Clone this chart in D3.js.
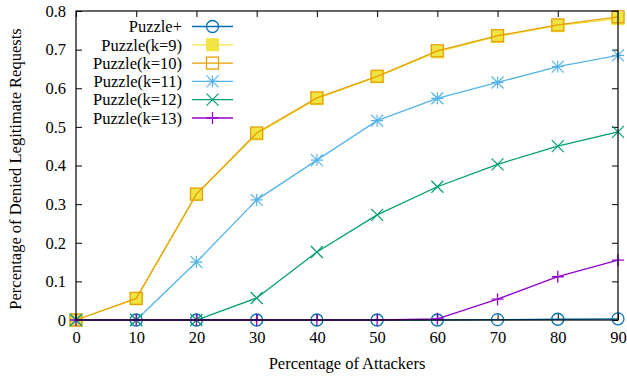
<!DOCTYPE html>
<html>
<head>
<meta charset="utf-8">
<script src="https://cdn.jsdelivr.net/npm/d3@7"></script>
<style>
  html, body { margin: 0; padding: 0; background: #fff; }
  svg { display: block; }
  svg text { font-family: "Liberation Serif", "Times New Roman", serif; }
</style>
</head>
<body>
<svg id="chart" width="627" height="379"></svg>
<script>
// Attacker share (percent) on the x axis
const attackers = [0, 10, 20, 30, 40, 50, 60, 70, 80, 90];

// Share of denied legitimate requests per scheme
const puzzlePlus = [0, 0, 0, 0, 0, 0, 0, 0.001, 0.002, 0.003];
const puzzleK9   = [0, 0.055, 0.325, 0.482, 0.573, 0.630, 0.694, 0.734, 0.762, 0.780];
const puzzleK10  = [0, 0.056, 0.326, 0.484, 0.575, 0.631, 0.697, 0.736, 0.764, 0.785];
const puzzleK11  = [0, 0, 0.150, 0.311, 0.414, 0.516, 0.574, 0.615, 0.656, 0.685];
const puzzleK12  = [0, 0, 0, 0.057, 0.176, 0.272, 0.345, 0.403, 0.450, 0.487];
const puzzleK13  = [0, 0, 0, 0, 0, 0, 0.003, 0.054, 0.112, 0.155];

const seriesNames = ["Puzzle+", "Puzzle(k=9)", "Puzzle(k=10)", "Puzzle(k=11)", "Puzzle(k=12)", "Puzzle(k=13)"];
const seriesColors = ["#0072b2", "#f0e442", "#e69f00", "#56b4e9", "#009e73", "#9400d3"];
const seriesMarkers = ["circle", "filledSquare", "square", "asterisk", "cross", "plus"];
const seriesValues = [puzzlePlus, puzzleK9, puzzleK10, puzzleK11, puzzleK12, puzzleK13];

const xTicks = [0, 10, 20, 30, 40, 50, 60, 70, 80, 90];
const yTicks = [0, 0.1, 0.2, 0.3, 0.4, 0.5, 0.6, 0.7, 0.8];

const svg = d3.select("#chart");
const plotLeft = 76, plotRight = 618, plotTop = 11, plotBottom = 320;

const x = d3.scaleLinear().domain([0, 90]).range([plotLeft, plotRight]);
const y = d3.scaleLinear().domain([0, 0.8]).range([plotBottom, plotTop]);

const fontSize = 16.5;
const fontFamily = "'Liberation Serif', 'Times New Roman', serif";
const tickLen = 6;

// Tick marks mirrored on all four sides, pointing inward
const axes = svg.append("g");
axes.append("g").attr("transform", `translate(0,${plotBottom})`)
  .call(d3.axisBottom(x).tickValues(xTicks).tickSize(-tickLen).tickFormat(d3.format("d")).tickPadding(11))
  .call(g => g.select(".domain").remove())
  .call(g => g.attr("font-family", fontFamily).attr("font-size", fontSize))
  .call(g => g.selectAll("text").attr("fill", "#000"));
axes.append("g").attr("transform", `translate(0,${plotTop})`)
  .call(d3.axisTop(x).tickValues(xTicks).tickSize(-tickLen).tickFormat(""))
  .call(g => g.select(".domain").remove());
axes.append("g").attr("transform", `translate(${plotLeft},0)`)
  .call(d3.axisLeft(y).tickValues(yTicks).tickSize(-tickLen).tickFormat(d => d === 0 ? "0" : d3.format(".1f")(d)).tickPadding(10))
  .call(g => g.select(".domain").remove())
  .call(g => g.attr("font-family", fontFamily).attr("font-size", fontSize))
  .call(g => g.selectAll("text").attr("fill", "#000"));
axes.append("g").attr("transform", `translate(${plotRight},0)`)
  .call(d3.axisRight(y).tickValues(yTicks).tickSize(-tickLen).tickFormat(""))
  .call(g => g.select(".domain").remove());
axes.selectAll(".tick line").attr("stroke", "#000").attr("stroke-width", 1);

// Axis titles
svg.append("text")
  .attr("x", 347).attr("y", 369)
  .attr("text-anchor", "middle").attr("font-size", fontSize).attr("font-family", fontFamily)
  .text("Percentage of Attackers");
svg.append("text")
  .attr("transform", `translate(21,169) rotate(-90)`)
  .attr("text-anchor", "middle").attr("font-size", fontSize).attr("font-family", fontFamily)
  .text("Percentage of Denied Legitimate Requests");

// Marker shapes, drawn around (0,0)
function drawMarker(g, type, color) {
  const s = 6;
  if (type === "circle") {
    g.append("circle").attr("r", s).attr("fill", "none").attr("stroke", color).attr("stroke-width", 1.3);
  } else if (type === "filledSquare") {
    g.append("rect").attr("x", -s).attr("y", -s).attr("width", 2 * s).attr("height", 2 * s)
      .attr("fill", color).attr("stroke", color).attr("stroke-width", 1);
  } else if (type === "square") {
    g.append("rect").attr("x", -s).attr("y", -s).attr("width", 2 * s).attr("height", 2 * s)
      .attr("fill", "none").attr("stroke", color).attr("stroke-width", 1.3);
  } else if (type === "asterisk") {
    g.append("path").attr("d", `M${-s},0H${s}M0,${-s}V${s}M${-s},${-s}L${s},${s}M${-s},${s}L${s},${-s}`)
      .attr("stroke", color).attr("stroke-width", 1.2).attr("fill", "none");
  } else if (type === "cross") {
    g.append("path").attr("d", `M${-s},${-s}L${s},${s}M${-s},${s}L${s},${-s}`)
      .attr("stroke", color).attr("stroke-width", 1.2).attr("fill", "none");
  } else if (type === "plus") {
    g.append("path").attr("d", `M${-s},0H${s}M0,${-s}V${s}`)
      .attr("stroke", color).attr("stroke-width", 1.3).attr("fill", "none");
  }
}

const line = d3.line().x(d => x(d[0])).y(d => y(d[1]));
const plot = svg.append("g");
seriesValues.forEach((vals, i) => {
  const pts = attackers.map((a, j) => [a, vals[j]]);
  const g = plot.append("g");
  g.append("path").attr("d", line(pts)).attr("fill", "none")
    .attr("stroke", seriesColors[i]).attr("stroke-width", 1.3);
  pts.forEach(p => {
    const m = g.append("g").attr("transform", `translate(${x(p[0])},${y(p[1])})`);
    drawMarker(m, seriesMarkers[i], seriesColors[i]);
  });
});

// Plot frame
svg.append("rect").attr("x", plotLeft).attr("y", plotTop)
  .attr("width", plotRight - plotLeft).attr("height", plotBottom - plotTop)
  .attr("fill", "none").attr("stroke", "#000").attr("stroke-width", 1.2);

// Legend in the upper-left corner, labels right-aligned before sample lines
const legend = svg.append("g");
seriesNames.forEach((name, i) => {
  const ly = 26.5 + i * 18.3;
  legend.append("text").attr("x", 182).attr("y", ly).attr("dy", "0.35em")
    .attr("text-anchor", "end").attr("font-size", fontSize).attr("font-family", fontFamily).text(name);
  legend.append("line").attr("x1", 192).attr("x2", 233).attr("y1", ly).attr("y2", ly)
    .attr("stroke", seriesColors[i]).attr("stroke-width", 1.3);
  const m = legend.append("g").attr("transform", `translate(212.5,${ly})`);
  drawMarker(m, seriesMarkers[i], seriesColors[i]);
});
</script>
</body>
</html>
